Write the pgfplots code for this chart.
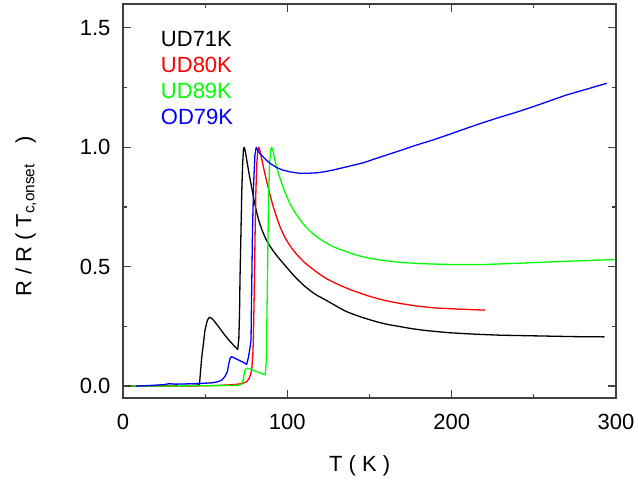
\documentclass[border=0pt]{standalone}
\usepackage{fontspec}
\setmainfont{Liberation Sans}
\usepackage{pgfplots}
\pgfplotsset{compat=1.18}
\newcommand\ff{\fontsize{22}{26}\selectfont}
\definecolor{cgreen}{RGB}{0,255,0}
\begin{document}
\begin{tikzpicture}
\path[use as bounding box] (-123pt,-92pt) rectangle (515pt,398pt);
\begin{axis}[at={(0,0)},anchor=south west,
  scale only axis,width=493pt,height=394pt,
  xmin=0,xmax=300,ymin=-0.05,ymax=1.6,
  xtick={0,100,200,300},ytick={0,0.5,1,1.5},
  minor x tick num=1,minor y tick num=1,
  major tick length=8pt,minor tick length=4pt,
  axis line style={black!75,line width=1.3pt},
  tick style={black!75,line width=1.2pt},
  tick label style={font=\ff},
  label style={font=\ff},
  /pgf/number format/assume math mode=true,
  yticklabel style={/pgf/number format/fixed,/pgf/number format/fixed zerofill,/pgf/number format/precision=1,xshift=-9pt},
  xticklabel style={yshift=-13pt},
  xlabel={T ( K )},
  ylabel={R / R ( T\textsubscript{c,onset}\hspace{0.9em})},
  xlabel style={at={(axis description cs:0.48,-0.172)},anchor=center},
  ylabel style={at={(axis description cs:-0.197,0.46)},anchor=center},
  every axis plot/.append style={line width=1.3pt,line join=round},
  no markers]
% UD71K
\addplot[black] coordinates {(5,0.0)(15,0.0)(25,0.002)(35,0.002)(44,0.003)(46.5,0.005)(47.9,0.12)(49.9,0.234)(51.3,0.275)(52.5,0.288)(54,0.284)(55.5,0.272)(58,0.25)(61,0.222)(64,0.196)(67.1,0.172)(69.8,0.153)(70.5,0.2)(70.9,0.3)(71.2,0.45)(71.8,0.65)(72.3,0.82)(72.8,0.93)(73.3,0.99)(73.7,1.0)(74.4,0.985)(75.3,0.947)(76.7,0.89)(78.3,0.832)(80,0.77)(81.6,0.72)(83,0.685)(84.5,0.655)(86,0.63)(87.5,0.608)(89.5,0.585)(91.5,0.565)(93.5,0.547)(95.5,0.53)(98,0.51)(100.5,0.49)(103,0.47)(106,0.448)(109,0.428)(112,0.41)(115,0.394)(118,0.38)(121,0.369)(124,0.358)(128,0.342)(132,0.326)(136,0.312)(140,0.301)(145,0.289)(150,0.278)(155,0.268)(161,0.258)(168.6,0.249)(176,0.24)(185,0.232)(199,0.223)(215,0.217)(229.4,0.213)(245,0.211)(259.8,0.209)(275,0.207)(293,0.206)};
% UD80K
\addplot[red] coordinates {(5,0.0)(20,0.0)(40,0.0)(55,0.002)(65,0.005)(70,0.008)(73,0.012)(75.3,0.018)(77,0.035)(78.3,0.066)(79,0.13)(79.3,0.19)(79.9,0.40)(80.3,0.6)(80.8,0.8)(81.4,0.93)(82,0.985)(82.6,1.0)(83.4,0.985)(84.3,0.955)(85.4,0.919)(86.4,0.888)(87.4,0.858)(88.5,0.828)(89.5,0.8)(90.8,0.767)(92,0.738)(93.7,0.703)(95.5,0.668)(97.3,0.64)(99,0.617)(101.2,0.592)(103.6,0.569)(106,0.549)(108.5,0.531)(111,0.514)(113.8,0.499)(117,0.482)(120,0.467)(124,0.449)(128,0.435)(133,0.419)(139,0.402)(144,0.39)(149,0.378)(155,0.366)(161,0.356)(168.6,0.346)(178.7,0.335)(190,0.327)(205,0.322)(220.3,0.318)};
% UD89K
\addplot[cgreen] coordinates {(5,0.0)(20,0.0)(40,0.001)(60,0.002)(70,0.003)(72.2,0.008)(73.2,0.03)(74.2,0.066)(75.3,0.075)(77,0.072)(80,0.064)(83,0.056)(86.5,0.047)(87.2,0.1)(87.6,0.3)(88.1,0.55)(88.6,0.79)(89.2,0.93)(89.9,0.99)(90.5,1.0)(91.3,0.985)(92.2,0.955)(93.2,0.925)(94.3,0.898)(95.5,0.872)(96.8,0.845)(98.2,0.818)(99.7,0.793)(101.3,0.768)(103,0.746)(104.8,0.726)(106.8,0.706)(109,0.685)(111.5,0.665)(114,0.648)(117,0.63)(120,0.615)(123.5,0.6)(127,0.587)(131,0.575)(135,0.565)(140,0.553)(145,0.543)(150,0.535)(158.4,0.526)(168.6,0.518)(180,0.513)(188.8,0.511)(200,0.509)(219.2,0.509)(240,0.514)(259.8,0.52)(280,0.525)(299.4,0.53)};
% OD79K
\addplot[blue] coordinates {(8,0.0)(15,0.002)(20,0.004)(25,0.006)(28,0.01)(32,0.008)(38,0.009)(44,0.01)(50,0.012)(55,0.014)(57,0.017)(60,0.024)(62,0.04)(63.5,0.06)(64.3,0.09)(65.1,0.115)(66,0.123)(67.1,0.12)(70,0.11)(73,0.1)(75.3,0.091)(76.3,0.12)(76.9,0.143)(77.9,0.192)(78.3,0.4)(78.8,0.65)(79.5,0.85)(80.3,0.97)(81.1,1.0)(81.8,0.99)(83,0.975)(85,0.962)(87.4,0.945)(90,0.93)(93.5,0.915)(97,0.905)(101.6,0.897)(107.7,0.891)(112,0.891)(117.9,0.893)(123,0.898)(128,0.905)(136,0.918)(146.2,0.935)(157,0.96)(168.6,0.986)(178,1.008)(188.8,1.031)(199,1.055)(209.2,1.08)(219,1.103)(229.4,1.126)(240,1.148)(249.6,1.17)(260,1.195)(269.9,1.219)(282,1.243)(294.4,1.268)};
\node[anchor=west,text=black,font=\ff,inner sep=0pt] at (axis cs:23,1.454) {UD71K};
\node[anchor=west,text=red,font=\ff,inner sep=0pt] at (axis cs:23,1.345) {UD80K};
\node[anchor=west,text=cgreen,font=\ff,inner sep=0pt] at (axis cs:23,1.236) {UD89K};
\node[anchor=west,text=blue,font=\ff,inner sep=0pt] at (axis cs:23,1.127) {OD79K};
\end{axis}
\end{tikzpicture}
\end{document}
